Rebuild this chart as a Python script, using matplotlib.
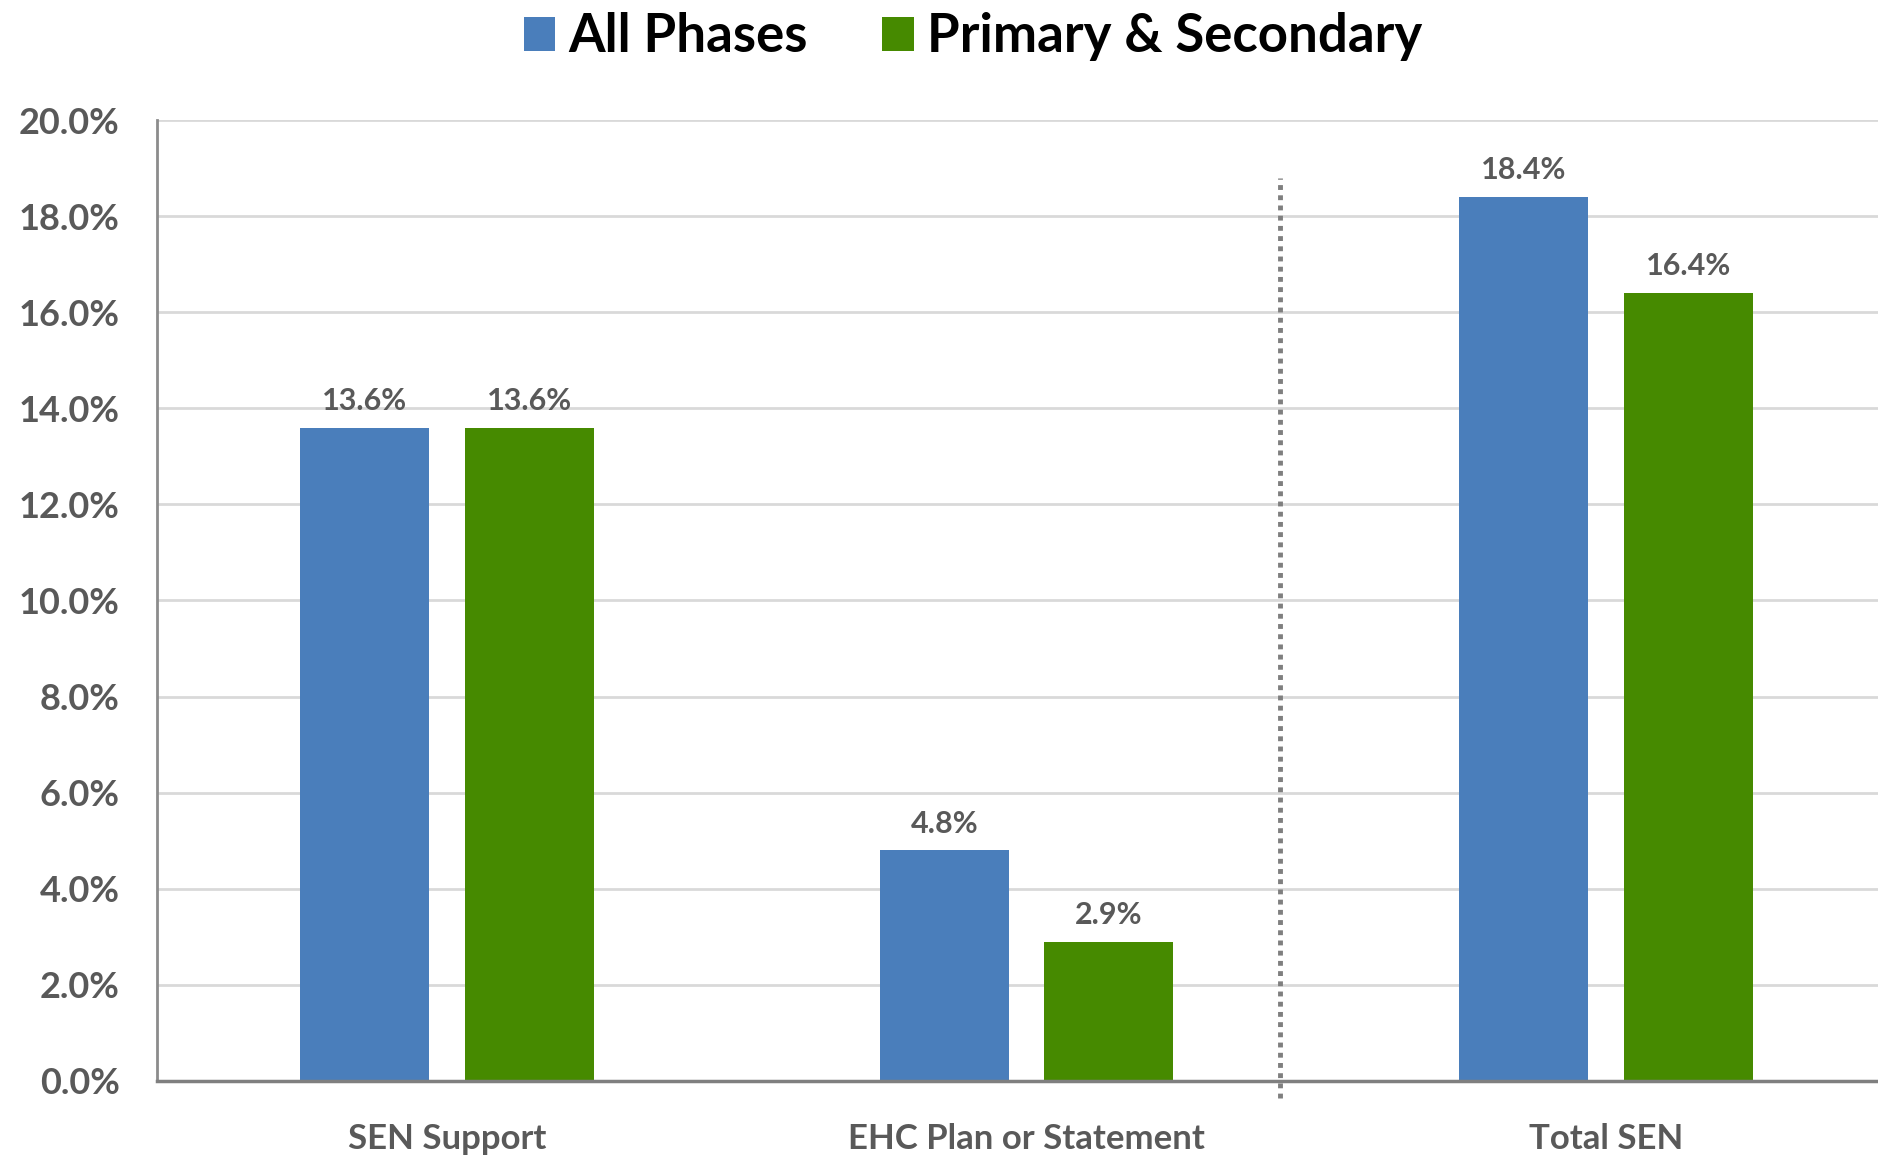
import numpy as np
import matplotlib
matplotlib.use('Agg')
import matplotlib.pyplot as plt
from matplotlib.patches import Patch

plt.rcParams['font.family'] = ['Lato', 'DejaVu Sans']

# ===== Data =====
categories = ['SEN Support', 'EHC Plan or Statement', 'Total SEN']
series_names = ['All Phases', 'Primary & Secondary']
all_phases = [13.6, 4.8, 18.4]
primary_secondary = [13.6, 2.9, 16.4]
yticks = [0, 2, 4, 6, 8, 10, 12, 14, 16, 18, 20]

blue = '#4A7EBB'
green = '#468A00'
label_grey = '#595959'

fig = plt.figure(figsize=(18.78, 11.55), dpi=100)
ax = fig.add_axes([0.0836, 0.0641, 0.9164, 0.8320])

x = np.arange(len(categories))
width = 0.223
offset = 0.142

b1 = ax.bar(x - offset, all_phases, width, color=blue, zorder=3)
b2 = ax.bar(x + offset, primary_secondary, width, color=green, zorder=3)

# value labels above bars
for bars, vals in [(b1, all_phases), (b2, primary_secondary)]:
    for rect, v in zip(bars, vals):
        ax.annotate(f'{v:.1f}%', (rect.get_x() + rect.get_width() / 2, v),
                    xytext=(0, 9), textcoords='offset points',
                    ha='center', va='bottom', fontsize=22, fontweight='bold',
                    color=label_grey)

# dotted divider between the groups
ax.plot([1.437, 1.437], [-0.35, 18.8], color='#7f7f7f', lw=3.5,
        linestyle=(0, (1, 1.1)), clip_on=False, zorder=4)

ax.set_ylim(0, 20)
ax.set_xlim(-0.5, 2.469)
ax.set_yticks(yticks)
ax.set_yticklabels([f'{t:.1f}%' for t in yticks])
ax.set_xticks(x)
ax.set_xticklabels(categories)

ax.tick_params(axis='y', length=0, pad=27, labelsize=26, labelcolor=label_grey)
ax.tick_params(axis='x', length=0, pad=30, labelsize=25, labelcolor=label_grey)
for lab in ax.get_xticklabels() + ax.get_yticklabels():
    lab.set_fontweight('bold')

ax.grid(axis='y', color='#d9d9d9', linewidth=2, zorder=0)
for s in ['top', 'right']:
    ax.spines[s].set_visible(False)
ax.spines['left'].set_color('#8c8c8c')
ax.spines['left'].set_linewidth(2)
ax.spines['bottom'].set_color('#7f7f7f')
ax.spines['bottom'].set_linewidth(2.5)
ax.spines['bottom'].set_zorder(5)

handles = [Patch(facecolor=blue), Patch(facecolor=green)]
fig.legend(handles, series_names, loc='center', bbox_to_anchor=(0.518, 0.968),
           ncol=2, frameon=False, prop={'size': 38, 'weight': 'bold'},
           handlelength=0.6, handleheight=0.6, handletextpad=0.25,
           columnspacing=1.4)

fig.savefig('out.png', dpi=100)
